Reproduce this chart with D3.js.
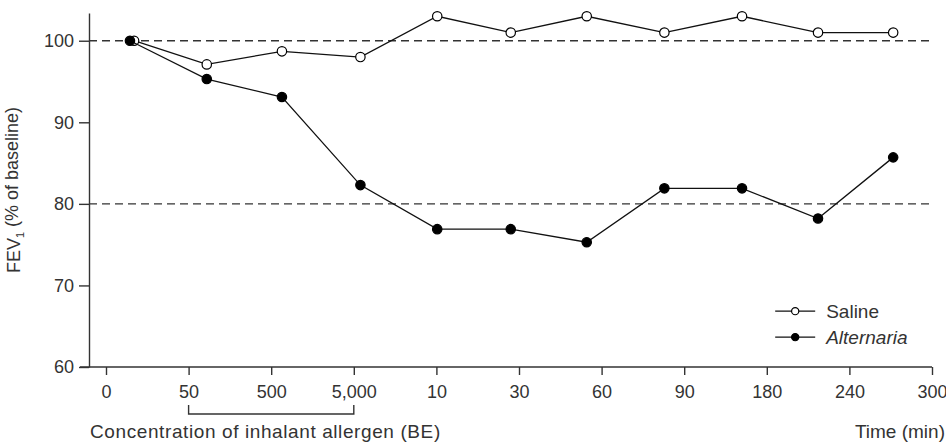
<!DOCTYPE html>
<html>
<head>
<meta charset="utf-8">
<script src="https://cdn.jsdelivr.net/npm/d3@7"></script>
<style>
  body { margin: 0; background: #fff; }
  svg { display: block; font-family: "Liberation Sans", Arial, sans-serif; }
  .axis text { font-size: 18px; fill: #333; font-family: "Liberation Sans", Arial, sans-serif; }
  .axis path, .axis line { stroke: #333; stroke-width: 1.4; }
  .ref { stroke: #333; stroke-width: 1.4; stroke-dasharray: 8,5; }
  .line { fill: none; stroke: #111; stroke-width: 1.3; }
  .label { font-size: 18px; fill: #333; }
</style>
</head>
<body>
<svg width="946" height="443"></svg>
<script>
// tick labels along the bottom (concentration steps, then minutes)
var tickLabels = ['0', '50', '500', '5,000', '10', '30', '60', '90', '180', '240', '300'];

// where each measurement sits, in tick units
var salinePos = [0.34, 1.22, 2.13, 3.08, 4.01, 4.90, 5.82, 6.76, 7.70, 8.62, 9.53];
var alternariaPos = [0.29, 1.22, 2.13, 3.08, 4.01, 4.90, 5.82, 6.76, 7.70, 8.62, 9.53];

// FEV1, % of baseline
var saline = [100, 97.1, 98.7, 98.0, 103, 101, 103, 101, 103, 101, 101];
var alternaria = [100, 95.3, 93.1, 82.3, 76.9, 76.9, 75.3, 81.9, 81.9, 78.2, 85.7];

var refLines = [100, 80];
var yTicks = [60, 70, 80, 90, 100];

var margin = { top: 13, left: 89 };
var height = 354;

var svg = d3.select('svg')
  .append('g')
    .attr('transform', 'translate(' + margin.left + ',' + margin.top + ')');

var x = d3.scaleLinear()
    .domain([0, 10])
    .range([17, 843]);

var y = d3.scaleLinear()
    .domain([60, 103.4])
    .range([height, 0]);

// dashed reference lines
svg.selectAll('.ref')
    .data(refLines)
  .enter().append('line')
    .attr('class', 'ref')
    .attr('x1', 0)
    .attr('x2', x(10))
    .attr('y1', function(d) { return y(d); })
    .attr('y2', function(d) { return y(d); });

var xAxis = d3.axisBottom(x)
    .tickValues(d3.range(tickLabels.length))
    .tickFormat(function(i) { return tickLabels[i]; })
    .tickSize(8)
    .tickPadding(10);

var gx = svg.append('g')
    .attr('class', 'x axis')
    .attr('transform', 'translate(0,' + height + ')')
    .call(xAxis);
gx.select('.domain').remove();
gx.append('line')
    .attr('x1', -9)
    .attr('x2', x(10))
    .attr('stroke', '#333')
    .attr('stroke-width', 1.4);

var yAxis = d3.axisLeft(y)
    .tickValues(yTicks)
    .tickSize(10)
    .tickSizeOuter(0)
    .tickPadding(5);

svg.append('g')
    .attr('class', 'y axis')
    .call(yAxis);

// bracket under the concentration steps
var by = height + 47;
svg.append('path')
    .attr('fill', 'none')
    .attr('stroke', '#333')
    .attr('stroke-width', 1.4)
    .attr('d', 'M' + x(1) + ',' + (by - 9) + 'V' + by + 'H' + x(3) + 'V' + (by - 9));

var line = d3.line()
    .x(function(d) { return x(d[0]); })
    .y(function(d) { return y(d[1]); });

var series = [
  { name: 'Saline', pos: salinePos, values: saline, fill: '#fff' },
  { name: 'Alternaria', pos: alternariaPos, values: alternaria, fill: '#000' }
];

series.forEach(function(s) {
  var pts = s.values.map(function(v, i) { return [s.pos[i], v]; });

  svg.append('path')
      .datum(pts)
      .attr('class', 'line')
      .attr('d', line);

  svg.selectAll('.pt-' + s.name)
      .data(pts)
    .enter().append('circle')
      .attr('class', 'pt-' + s.name)
      .attr('cx', function(d) { return x(d[0]); })
      .attr('cy', function(d) { return y(d[1]); })
      .attr('r', 4.7)
      .attr('fill', s.fill)
      .attr('stroke', '#000')
      .attr('stroke-width', 1.2);
});

// legend
var legend = svg.append('g')
    .attr('transform', 'translate(' + (x(8.15) - 4) + ',' + y(66.85) + ')');

series.forEach(function(s, i) {
  var g = legend.append('g').attr('transform', 'translate(0,' + (i * 26) + ')');
  g.append('line')
      .attr('x1', 0).attr('x2', 40)
      .attr('stroke', '#111').attr('stroke-width', 1.3);
  g.append('circle')
      .attr('cx', 20).attr('r', 3.6)
      .attr('fill', s.fill)
      .attr('stroke', '#000').attr('stroke-width', 1.2);
  g.append('text')
      .attr('class', 'label')
      .attr('x', 51)
      .attr('dy', '0.35em')
      .style('font-size', '19px')
      .style('font-style', i === 1 ? 'italic' : 'normal')
      .text(s.name);
});

// axis titles
svg.append('text')
    .attr('class', 'label')
    .attr('x', 1)
    .attr('y', height + 64)
    .attr('dy', '0.35em')
    .style('font-size', '19px')
    .style('letter-spacing', '0.6px')
    .text('Concentration of inhalant allergen (BE)');

svg.append('text')
    .attr('class', 'label')
    .attr('x', 946 - margin.left - 1)
    .attr('y', height + 64)
    .attr('dy', '0.35em')
    .attr('text-anchor', 'end')
    .style('font-size', '19px')
    .text('Time (min)');

var yl = svg.append('text')
    .attr('class', 'label')
    .attr('transform', 'translate(' + (14 - margin.left) + ',' + (190 - margin.top) + ') rotate(-90)')
    .attr('text-anchor', 'middle')
    .attr('dy', '0.35em');
yl.append('tspan').text('FEV');
yl.append('tspan').attr('font-size', '11px').attr('dy', '0.35em').text('1');
yl.append('tspan').attr('dy', '-0.35em').text(' (% of baseline)');
</script>
</body>
</html>
